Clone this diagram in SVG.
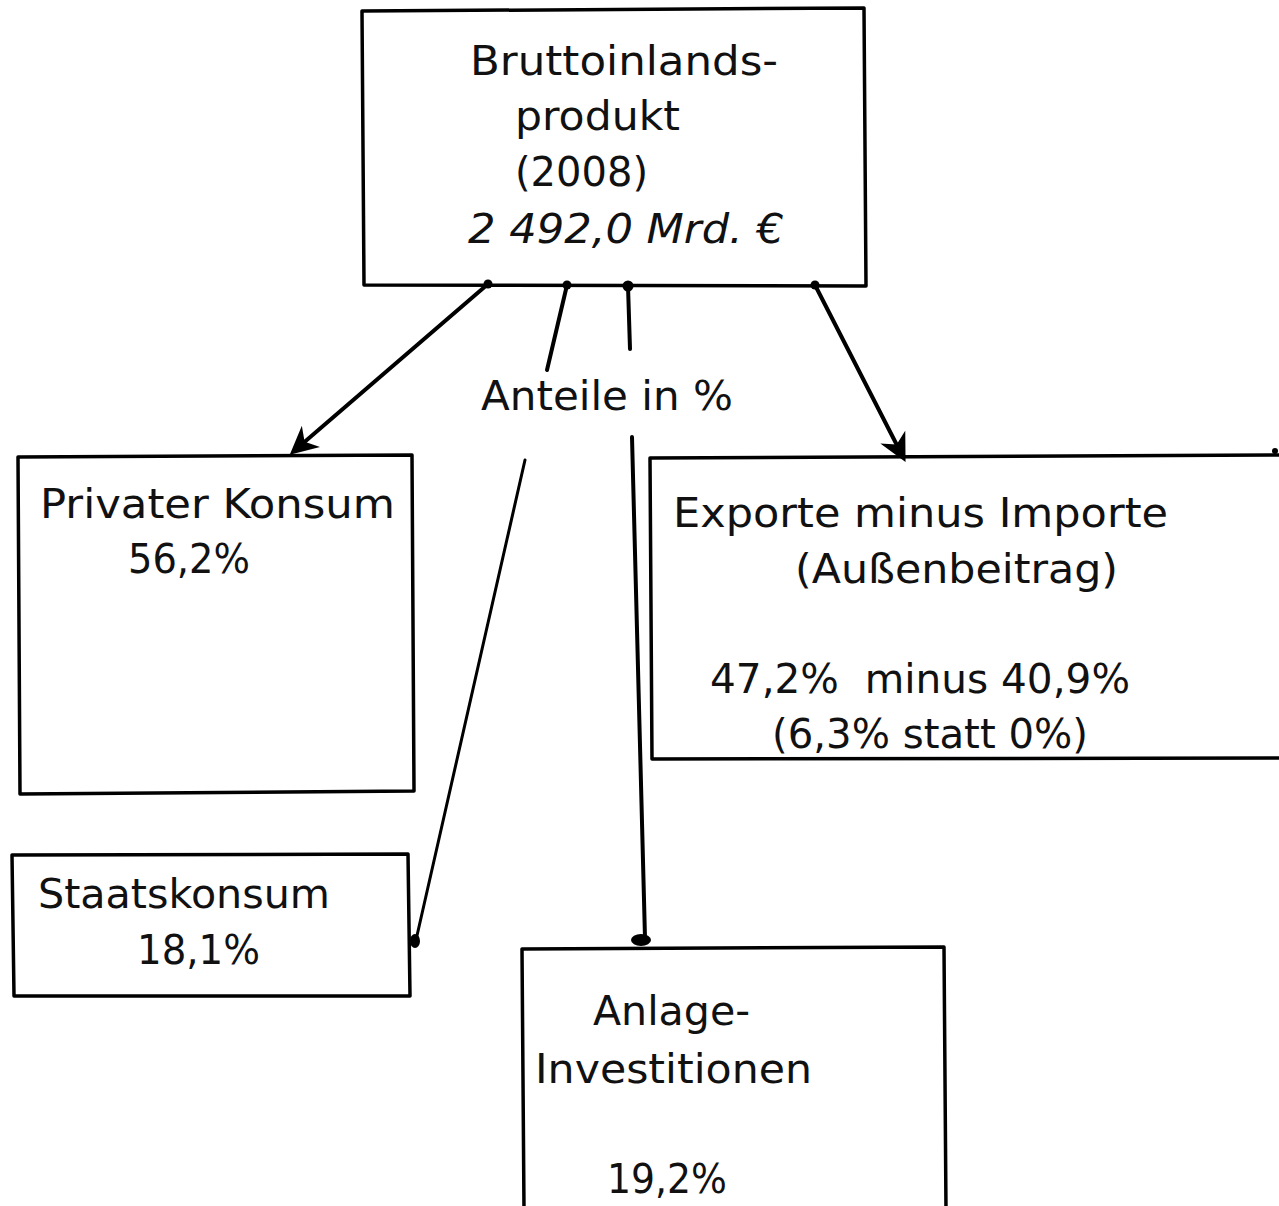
<svg xmlns="http://www.w3.org/2000/svg" width="1279" height="1206" viewBox="0 0 1279 1206">
<style>
.box{fill:none;stroke:#000;stroke-width:3.5;stroke-linejoin:round}
.ln{fill:none;stroke:#000;stroke-width:4;stroke-linecap:round}
.thin{fill:none;stroke:#000;stroke-width:3;stroke-linecap:round}
text{font-family:"DejaVu Sans","Liberation Sans",sans-serif;font-size:41px;fill:#111}
.it{font-style:italic}
</style>
<defs>
<marker id="arr" viewBox="0 0 10 10" refX="8" refY="5" markerWidth="7" markerHeight="7" orient="auto">
<path d="M0,0 L10,5 L0,10 L3,5 z" fill="#000"/>
</marker>
</defs>
<rect width="1279" height="1206" fill="#fff"/>
<g id="bip">
<path class="box" d="M362,11 L864,8 L866,286 L364,285 Z"/>
<text x="470" y="75" textLength="308" lengthAdjust="spacingAndGlyphs">Bruttoinlands-</text>
<text x="515" y="130" textLength="165" lengthAdjust="spacingAndGlyphs">produkt</text>
<text x="515" y="186" textLength="133" lengthAdjust="spacingAndGlyphs">(2008)</text>
<text class="it" x="468" y="243" textLength="316" lengthAdjust="spacingAndGlyphs">2 492,0 Mrd. €</text>
</g>
<g id="anteile">
<text x="481" y="410" textLength="252" lengthAdjust="spacingAndGlyphs">Anteile in %</text>
</g>
<g id="privat">
<path class="box" d="M18,457 L412,455 L414,791 L20,794 Z"/>
<text x="40" y="518" textLength="355" lengthAdjust="spacingAndGlyphs">Privater Konsum</text>
<text x="128" y="573" textLength="122" lengthAdjust="spacingAndGlyphs">56,2%</text>
</g>
<g id="export">
<path class="box" d="M1290,455 L650,458 L652,759 L1290,758"/>
<circle cx="1275" cy="451" r="3" fill="#000"/>
<text x="673" y="527" textLength="495" lengthAdjust="spacingAndGlyphs">Exporte minus Importe</text>
<text x="795" y="583" textLength="323" lengthAdjust="spacingAndGlyphs">(Außenbeitrag)</text>
<text x="710" y="693" textLength="420" lengthAdjust="spacingAndGlyphs" xml:space="preserve">47,2%  minus 40,9%</text>
<text x="772" y="748" textLength="316" lengthAdjust="spacingAndGlyphs">(6,3% statt 0%)</text>
</g>
<g id="staat">
<path class="box" d="M12,855 L408,854 L410,996 L14,996 Z"/>
<text x="38" y="908" textLength="292" lengthAdjust="spacingAndGlyphs">Staatskonsum</text>
<text x="137" y="964" textLength="123" lengthAdjust="spacingAndGlyphs">18,1%</text>
</g>
<g id="anlage">
<path class="box" d="M524,1210 L522,949 L944,947 L946,1210"/>
<text x="593" y="1025" textLength="157" lengthAdjust="spacingAndGlyphs">Anlage-</text>
<text x="535" y="1083" textLength="277" lengthAdjust="spacingAndGlyphs">Investitionen</text>
<text x="607" y="1193" textLength="120" lengthAdjust="spacingAndGlyphs">19,2%</text>
</g>
<g id="connectors">
<circle cx="488" cy="284" r="4.5" fill="#000"/>
<line class="ln" x1="488" y1="284" x2="294" y2="451" marker-end="url(#arr)"/>
<circle cx="567" cy="285" r="4.5" fill="#000"/>
<line class="ln" x1="567" y1="285" x2="547" y2="370"/>
<circle cx="628" cy="286" r="5.5" fill="#000"/>
<line class="ln" x1="628" y1="286" x2="630" y2="349"/>
<circle cx="815" cy="285" r="4.5" fill="#000"/>
<line class="ln" x1="815" y1="285" x2="903" y2="457" marker-end="url(#arr)"/>
<line class="thin" x1="525" y1="460" x2="416" y2="940"/>
<ellipse cx="415" cy="941" rx="5" ry="7" fill="#000"/>
<line class="ln" x1="632" y1="437" x2="645" y2="938"/>
<ellipse cx="641" cy="940" rx="10" ry="6" fill="#000"/>
</g>
</svg>
